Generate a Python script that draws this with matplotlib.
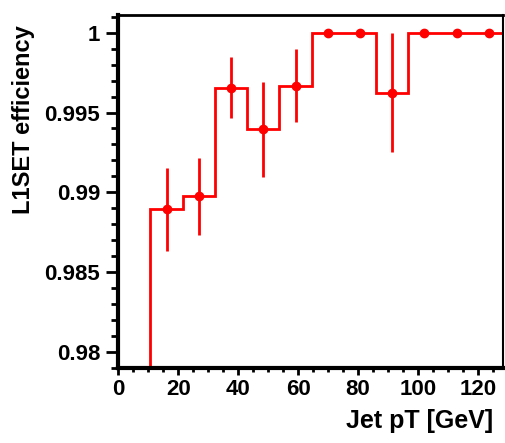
import numpy as np
import matplotlib.pyplot as plt
from matplotlib.ticker import MultipleLocator

# histogram: 12 bins of jet pT, 0..129 GeV
edges = np.linspace(0, 129, 13)
eff = [0.0, 0.98894, 0.98975, 0.99656, 0.99394, 0.99669, 1.0, 1.0, 0.99625, 1.0, 1.0, 1.0]
err = [0.0, 0.0026, 0.0024, 0.0019, 0.0030, 0.0023, 0.0, 0.0, 0.0037, 0.0, 0.0, 0.0]

plt.rcParams['font.family'] = ['Liberation Sans', 'DejaVu Sans']
plt.rcParams['font.weight'] = 'bold'

fig = plt.figure(figsize=(5.05, 4.43), dpi=100)
ax = fig.add_axes([0.234, 0.169, 0.762, 0.797])

red = '#ff0000'
ax.stairs(eff, edges, color=red, linewidth=2, baseline=None)
centers = 0.5 * (edges[1:] + edges[:-1])
ax.errorbar(centers[1:], eff[1:], yerr=err[1:], fmt='o', color=red,
            markersize=6, elinewidth=2, capsize=0)

ax.set_xlim(0, 128.3)
ax.set_ylim(0.979, 1.0011)

ax.xaxis.set_major_locator(MultipleLocator(20))
ax.xaxis.set_minor_locator(MultipleLocator(5))
ax.yaxis.set_major_locator(MultipleLocator(0.005))
ax.yaxis.set_minor_locator(MultipleLocator(0.001))
ax.yaxis.set_major_formatter(plt.FuncFormatter(lambda v, p: ('%g' % round(v, 4))))

ax.tick_params(axis='y', which='major', direction='out', length=9, width=2, labelsize=16, pad=4)
ax.tick_params(axis='y', which='minor', direction='out', length=5, width=2)
ax.tick_params(axis='x', which='major', direction='out', length=5, width=2, labelsize=16, pad=3)
ax.tick_params(axis='x', which='minor', direction='out', length=3, width=2)
ax.spines['left'].set_linewidth(3)
ax.spines['bottom'].set_linewidth(3)
ax.spines['top'].set_linewidth(2)
ax.spines['right'].set_linewidth(1.5)

ax.set_xlabel('Jet pT [GeV]', fontsize=18, fontweight='bold', loc='right')
ax.set_ylabel('L1SET efficiency', fontsize=17, fontweight='bold', loc='top')
ax.xaxis.set_label_coords(0.974, -0.115)
ax.yaxis.set_label_coords(-0.216, 0.972)

plt.savefig('out.png', dpi=100)
